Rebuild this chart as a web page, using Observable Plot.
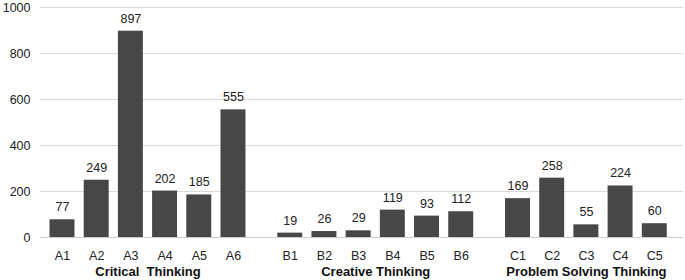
<!DOCTYPE html>
<html><head><meta charset="utf-8">
<script src="https://cdn.jsdelivr.net/npm/d3@7"></script>
<script src="https://cdn.jsdelivr.net/npm/@observablehq/plot@0.6"></script>
<style>body{margin:0;background:#fff} svg{overflow:visible}</style>
</head><body><div id="chart"></div>
<script>
const groups = ["Critical  Thinking", "Creative Thinking", "Problem Solving Thinking"];
const categoriesA = ["A1", "A2", "A3", "A4", "A5", "A6"];
const valuesA = [77, 249, 897, 202, 185, 555];
const categoriesB = ["B1", "B2", "B3", "B4", "B5", "B6"];
const valuesB = [19, 26, 29, 119, 93, 112];
const categoriesC = ["C1", "C2", "C3", "C4", "C5"];
const valuesC = [169, 258, 55, 224, 60];
const yTicks = [0, 200, 400, 600, 800, 1000];
const groupGap = 0.66;

const data = [];
let offset = 0;
[[categoriesA, valuesA], [categoriesB, valuesB], [categoriesC, valuesC]].forEach(([cats, vals], g) => {
  cats.forEach((c, i) => data.push({label: c, value: vals[i], group: groups[g], pos: offset + i}));
  offset += cats.length + groupGap;
});
const groupLabels = groups.map(g => ({group: g, pos: d3.mean(data.filter(d => d.group === g), d => d.pos)}));

const font = "'Liberation Sans', Arial, Helvetica, sans-serif";
const chart = Plot.plot({
  width: 685, height: 280,
  marginLeft: 40, marginRight: 2, marginTop: 7, marginBottom: 43,
  x: {domain: [-0.643, 18.16], axis: null},
  y: {domain: [0, 1000], axis: null},
  style: {fontFamily: font, fontSize: "12.5px", color: "#222", background: "#fff", overflow: "visible"},
  marks: [
    Plot.gridY(yTicks, {stroke: "#dadada", strokeOpacity: 1}),
    Plot.axisY(yTicks, {tickSize: 0, tickPadding: 10, fontSize: 12.5, label: null, fill: "#222", tickFormat: d => String(d)}),
    Plot.rectY(data, {x1: d => d.pos - 0.365, x2: d => d.pos + 0.365, y: "value", fill: "#474747"}),
    Plot.ruleY([0], {stroke: "#cccccc"}),
    Plot.text(data, {x: "pos", y: "value", text: d => String(d.value), dy: -12.5, fill: "#222", fontSize: 12.5}),
    Plot.text(data, {x: "pos", y: 0, text: "label", dy: 18, fill: "#222", fontSize: 12.5}),
    Plot.text(groupLabels, {x: "pos", y: 0, text: "group", dy: 34, fontWeight: "bold", fontSize: 13, fill: "#111"})
  ]
});
document.getElementById("chart").append(chart);
</script>
</body></html>
